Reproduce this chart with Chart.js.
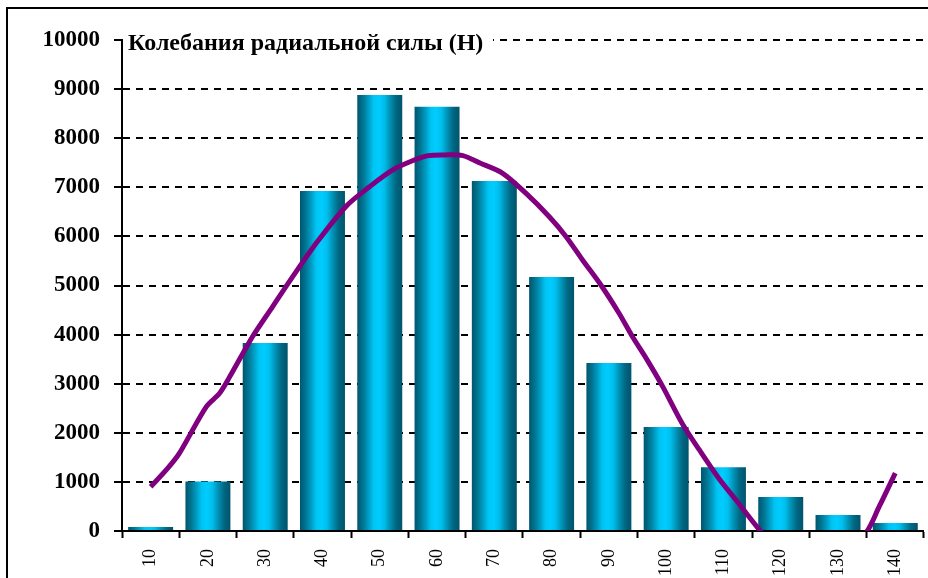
<!DOCTYPE html>
<html>
<head>
<meta charset="utf-8">
<script src="https://cdn.jsdelivr.net/npm/chart.js@4/dist/chart.umd.min.js"></script>
<style>
  html, body { margin: 0; padding: 0; background: #ffffff; }
  #wrap { width: 928px; height: 578px; position: relative; }
</style>
</head>
<body>
<div id="wrap"><canvas id="c" width="928" height="578"></canvas></div>
<script>
const chartTitle = 'Колебания радиальной силы (Н)';
const categories = ['10','20','30','40','50','60','70','80','90','100','110','120','130','140'];
const barValues = [80, 1010, 3830, 6925, 8880, 8640, 7130, 5175, 3420, 2120, 1300, 690, 325, 165];
const yTicks = [0,1000,2000,3000,4000,5000,6000,7000,8000,9000,10000];
// trend curve (x in category units, y in Н)
const trendX = [10, 13, 15, 19.7, 22, 23.8, 27.8, 31.3, 34.8, 38.9, 44.1, 48.2, 52.2, 55.7, 58.4, 61.4, 64.5, 67.4, 71.4, 75.5, 79.6, 82.5, 85.4, 88.6, 91.8, 94.1, 96.7, 99.4, 102.8, 105.8, 109.2, 112.2, 116.8, 120, 125, 130, 134.8, 137.2, 140];
const trendY = [900, 1280, 1580, 2530, 2800, 3140, 3960, 4570, 5180, 5860, 6610, 7010, 7350, 7540, 7645, 7660, 7645, 7500, 7290, 6880, 6400, 6000, 5520, 5010, 4430, 3960, 3480, 2940, 2190, 1650, 1070, 630, -50, -420, -700, -480, -50, 500, 1180];

const SERIF = '"Liberation Serif", "Times New Roman", serif';
const BAR_PCT = 0.785;

function barGradient(ctx) {
  const chart = ctx.chart;
  const xs = chart.scales && chart.scales.x;
  if (!chart.chartArea || !xs || ctx.type !== 'data') return '#00C4F4';
  const cx = xs.getPixelForValue(ctx.dataIndex);
  const w = (xs.width / categories.length) * BAR_PCT;
  const g = chart.ctx.createLinearGradient(cx - w / 2, 0, cx + w / 2, 0);
  g.addColorStop(0.00, '#00566F');
  g.addColorStop(0.12, '#00738F');
  g.addColorStop(0.25, '#009CC4');
  g.addColorStop(0.36, '#00C4F2');
  g.addColorStop(0.48, '#00CCFF');
  g.addColorStop(0.60, '#00BEEC');
  g.addColorStop(0.72, '#0094B8');
  g.addColorStop(0.86, '#006782');
  g.addColorStop(1.00, '#00546C');
  return g;
}

const overlay = {
  id: 'overlay',
  afterDraw(chart) {
    const c = chart.ctx;
    c.save();
    // title box covering grid/axis
    c.fillStyle = '#ffffff';
    c.fillRect(123, 20, 370, 44);
    c.fillStyle = '#000000';
    c.font = 'bold 24px ' + SERIF;
    c.textAlign = 'left';
    c.textBaseline = 'alphabetic';
    c.fillText(chartTitle, 128, 50);
    // outer frame
    c.strokeStyle = '#000000';
    c.lineWidth = 2;
    c.strokeRect(7, 8, 1000, 1000);
    c.restore();
  }
};

new Chart(document.getElementById('c'), {
  data: {
    labels: categories,
    datasets: [
      {
        type: 'line',
        data: trendX.map((x, i) => ({ x: x, y: trendY[i] })),
        xAxisID: 'x2',
        borderColor: '#800080',
        borderWidth: 5,
        pointRadius: 0,
        tension: 0.3,
        fill: false,
        order: 0
      },
      {
        type: 'bar',
        data: barValues,
        xAxisID: 'x',
        backgroundColor: barGradient,
        borderWidth: 0,
        grouped: false,
        categoryPercentage: 1,
        barPercentage: BAR_PCT,
        order: 1
      }
    ]
  },
  options: {
    responsive: false,
    animation: false,
    devicePixelRatio: 1,
    layout: { padding: { left: 0, right: 3, top: 40, bottom: 0 } },
    plugins: { legend: { display: false }, tooltip: { enabled: false }, title: { display: false } },
    scales: {
      x: {
        type: 'category',
        offset: true,
        grid: {
          offset: true,
          drawOnChartArea: false,
          drawTicks: true,
          tickLength: 7,
          tickColor: '#000000',
          tickWidth: 2
        },
        border: { display: true, color: '#000000', width: 2 },
        ticks: {
          color: '#000000',
          font: { family: SERIF, size: 18 },
          minRotation: 90,
          maxRotation: 90,
          autoSkip: false,
          padding: 11
        },
        afterFit(scale) { scale.height = 47; }
      },
      x2: {
        type: 'linear',
        display: false,
        min: 5,
        max: 145
      },
      y: {
        type: 'linear',
        min: 0,
        max: 10000,
        afterBuildTicks(scale) { scale.ticks = yTicks.map(v => ({ value: v })); },
        grid: {
          color: '#000000',
          lineWidth: 2,
          drawTicks: true,
          tickLength: 8,
          tickColor: '#000000',
          tickWidth: 2,
          tickBorderDash: []
        },
        border: { display: true, color: '#000000', width: 2, dash: [7, 6] },
        ticks: {
          color: '#000000',
          font: { family: SERIF, size: 23, weight: 'bold' },
          padding: 14,
          callback: (v) => String(v)
        },
        afterFit(scale) { scale.width = 122; }
      }
    }
  },
  plugins: [overlay]
});
</script>
</body>
</html>
